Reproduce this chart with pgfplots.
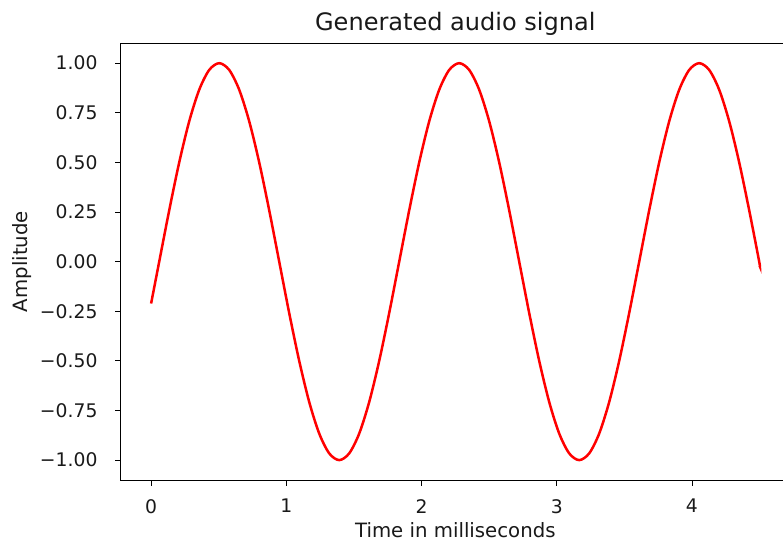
\documentclass[border=0pt]{standalone}
\usepackage{pgfplots}
\pgfplotsset{compat=1.18}
\usepackage{fontspec}
\setmainfont{DejaVu Sans}
\pgfplotstableread{
t y
0 -0.211
0.0600 0
0.1340 0.2588
0.2079 0.5
0.2819 0.7071
0.3558 0.8660
0.4298 0.9659
0.5038 1
0.5777 0.9659
0.6517 0.8660
0.7256 0.7071
0.7996 0.5
0.8735 0.2588
0.9475 0
1.0214 -0.2588
1.0954 -0.5
1.1694 -0.7071
1.2433 -0.8660
1.3173 -0.9659
1.3913 -1
1.4652 -0.9659
1.5392 -0.8660
1.6131 -0.7071
1.6871 -0.5
1.7610 -0.2588
1.8350 0
1.9090 0.2588
1.9829 0.5
2.0569 0.7071
2.1308 0.8660
2.2048 0.9659
2.2788 1
2.3527 0.9659
2.4267 0.8660
2.5006 0.7071
2.5746 0.5
2.6485 0.2588
2.7225 0
2.7965 -0.2588
2.8704 -0.5
2.9444 -0.7071
3.0183 -0.8660
3.0923 -0.9659
3.1663 -1
3.2402 -0.9659
3.3142 -0.8660
3.3881 -0.7071
3.4621 -0.5
3.5360 -0.2588
3.6100 0
3.6840 0.2588
3.7579 0.5
3.8319 0.7071
3.9058 0.8660
3.9798 0.9659
4.0538 1
4.1277 0.9659
4.2017 0.8660
4.2756 0.7071
4.3496 0.5
4.4235 0.2588
4.4975 0
4.5 -0.02
}\sig
\begin{document}
\begin{tikzpicture}
\begin{axis}[
  at={(0pt,0pt)}, anchor=south west,
  scale only axis, width=481.9pt, height=314.4pt,
  xmin=-0.225, xmax=4.725, ymin=-1.1, ymax=1.1,
  axis line style={black, line width=0.6pt},
  tick style={black, line width=0.6pt},
  tick align=outside, major tick length=4pt,
  xtick pos=bottom, ytick pos=left,
  xtick={0,1,2,3,4},
  xticklabels={0,1,2,3,4},
  ytick={-1,-0.75,-0.5,-0.25,0,0.25,0.5,0.75,1},
  yticklabels={−1.00,−0.75,−0.50,−0.25,0.00,0.25,0.50,0.75,1.00},
  ticklabel style={font=\fontsize{13.5}{16}\selectfont, text=black!90},
  xticklabel style={yshift=-6.3pt},
  yticklabel style={xshift=-9.2pt},
  title={Generated audio signal},
  title style={font=\fontsize{17.3}{20}\selectfont, at={(axis description cs:0.5,1.025)}, anchor=center, text=black!90},
  xlabel={Time in milliseconds},
  xlabel style={font=\fontsize{14.2}{16}\selectfont, at={(axis description cs:0.5,-0.1145)}, anchor=center, text=black!90},
  ylabel={Amplitude},
  ylabel style={font=\fontsize{14.2}{16}\selectfont, at={(axis description cs:-0.1475,0.5)}, anchor=center, text=black!90},
]
\addplot[red, line width=1.8pt, smooth] table[x=t, y=y] {\sig};
\end{axis}
\pgfresetboundingbox
\path[use as bounding box] (-86.9pt,-44.6pt) rectangle (476.9pt,345.6pt);
\end{tikzpicture}
\end{document}
